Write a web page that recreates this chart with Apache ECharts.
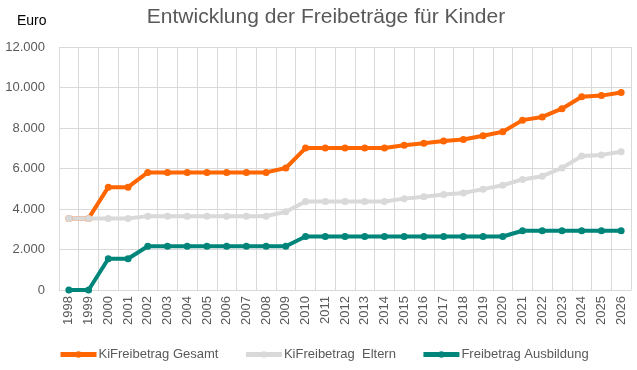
<!DOCTYPE html>
<html><head><meta charset="utf-8">
<script src="https://cdn.jsdelivr.net/npm/echarts@6/dist/echarts.min.js"></script>
<style>html,body{margin:0;padding:0;background:#fff}#c{width:637px;height:370px}</style>
</head><body><div id="c"></div>
<script>
const years = ['1998','1999','2000','2001','2002','2003','2004','2005','2006','2007','2008','2009','2010','2011','2012','2013','2014','2015','2016','2017','2018','2019','2020','2021','2022','2023','2024','2025','2026'];
const gesamt = [3534,3534,5080,5080,5808,5808,5808,5808,5808,5808,5808,6024,7008,7008,7008,7008,7008,7152,7248,7356,7428,7620,7812,8388,8548,8952,9540,9600,9756];
const eltern = [3534,3534,3534,3534,3648,3648,3648,3648,3648,3648,3648,3864,4368,4368,4368,4368,4368,4512,4608,4716,4788,4980,5172,5460,5620,6024,6612,6672,6828];
const ausbildung = [0,0,1546,1546,2160,2160,2160,2160,2160,2160,2160,2160,2640,2640,2640,2640,2640,2640,2640,2640,2640,2640,2640,2928,2928,2928,2928,2928,2928];
const seriesNames = ['KiFreibetrag Gesamt','KiFreibetrag  Eltern','Freibetrag Ausbildung'];

const chart = echarts.init(document.getElementById('c'), null, {renderer:'canvas'});
const font = 'Liberation Sans';
function mk(name, data, color){
  return {name, type:'line', data, color, symbol:'circle', symbolSize:7,
    lineStyle:{width:4, color}, itemStyle:{color}, animation:false};
}
chart.setOption({
  animation:false,
  textStyle:{fontFamily:font},
  title:[{text:'Entwicklung der Freibeträge für Kinder', left:321, textAlign:'center', top:2,
    textStyle:{fontFamily:font, fontSize:21, fontWeight:'normal', color:'#595959'}},
    {text:'Euro', left:12, top:9, textStyle:{fontFamily:font, fontSize:14, fontWeight:'normal', color:'#000'}}],
  grid:{left:59, right:6, top:47, bottom:80, containLabel:false},
  legend:{bottom:4, left:53, itemGap:25, itemWidth:36, itemHeight:8,
    lineStyle:{width:5},
    textStyle:{fontFamily:font, fontSize:13, color:'#595959', padding:[0,0,0,-3]}, data:seriesNames},
  xAxis:{type:'category', data:years, boundaryGap:true,
    axisLine:{lineStyle:{color:'#D9D9D9'}}, axisTick:{show:false},
    splitLine:{show:true, interval:0, lineStyle:{color:'#D9D9D9'}},
    axisLabel:{interval:0, rotate:90, color:'#595959', fontSize:13, margin:6}},
  yAxis:{type:'value', min:0, max:12000, interval:2000,
    axisLine:{show:false}, axisTick:{show:false},
    splitLine:{lineStyle:{color:'#D9D9D9'}},
    axisLabel:{color:'#595959', fontSize:13, margin:14,
      formatter:v=>v.toString().replace(/\B(?=(\d{3})+(?!\d))/g,'.')}},
  series:[mk(seriesNames[0], gesamt, '#FF6600'), mk(seriesNames[1], eltern, '#D9D9D9'), mk(seriesNames[2], ausbildung, '#00857A')]
});
</script></body></html>
